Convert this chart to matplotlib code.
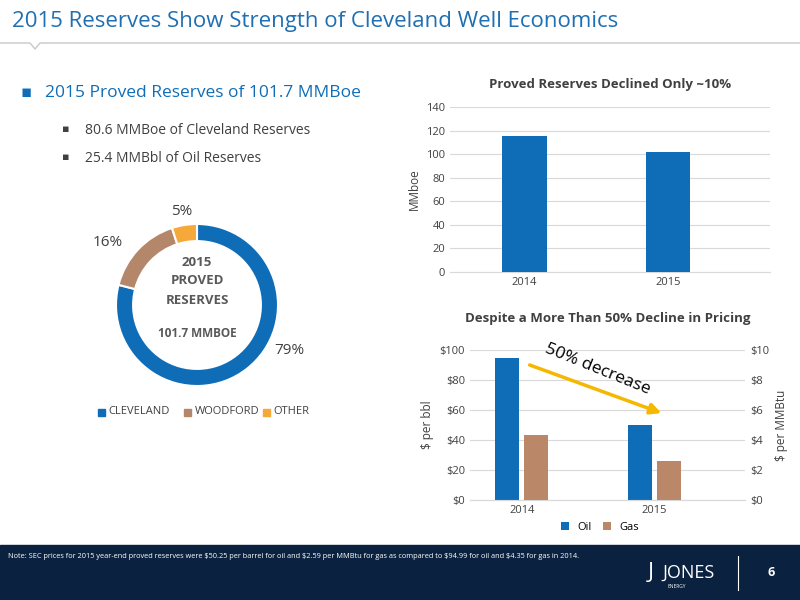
import matplotlib
matplotlib.use("Agg")
import matplotlib.pyplot as plt
from matplotlib.patches import Rectangle, FancyArrowPatch
from matplotlib.lines import Line2D

plt.rcParams['font.family'] = ['Open Sans', 'DejaVu Sans']

pie_labels = ["CLEVELAND", "WOODFORD", "OTHER"]
pie_values = [79, 16, 5]
pie_colors = ["#0F6DB8", "#B5876A", "#F5A93A"]

res_years = ["2014", "2015"]
res_values = [115.0, 101.7]

price_years = ["2014", "2015"]
oil_price = [94.99, 50.25]
gas_price = [4.35, 2.59]

BLUE = "#0F6DB8"
BROWN = "#BA8768"
TXT = "#404040"

fig = plt.figure(figsize=(8, 6), dpi=100)
W, H = 800, 600
def fx(x): return x / W
def fy(y): return 1 - y / H

fig.text(fx(12), fy(22), "2015 Reserves Show Strength of Cleveland Well Economics",
         color="#1F6FB2", fontsize=16, va="center", ha="left")
fig.add_artist(Line2D([fx(0), fx(30), fx(35), fx(40), fx(800)],
                      [fy(43), fy(43), fy(49), fy(43), fy(43)], color="#C8C8C8", lw=1))

fig.text(fx(20), fy(93), "\u25AA", color=BLUE, fontsize=12, va="center")
fig.text(fx(45), fy(93), "2015 Proved Reserves of 101.7 MMBoe", color="#0F6DB8", fontsize=12.5, va="center")
for y, t in [(130, "80.6 MMBoe of Cleveland Reserves"), (158, "25.4 MMBbl of Oil Reserves")]:
    fig.text(fx(62), fy(y), "\u25AA", color=TXT, fontsize=8, va="center")
    fig.text(fx(85), fy(y), t, color=TXT, fontsize=10, va="center")

# donut
axp = fig.add_axes([fx(107), fy(395), 180 / W, 180 / H])
wedges, _ = axp.pie(pie_values, colors=pie_colors, startangle=90, counterclock=False,
                    radius=0.9, wedgeprops=dict(width=0.19, edgecolor="white", linewidth=1.5))
axp.set_xlim(-1, 1); axp.set_ylim(-1, 1); axp.set_aspect("equal")
fig.text(fx(197), fy(262), "2015", ha="center", va="center", fontsize=9.5, weight="bold", color="#595959")
fig.text(fx(197), fy(281), "PROVED", ha="center", va="center", fontsize=9.5, weight="bold", color="#595959")
fig.text(fx(197), fy(300), "RESERVES", ha="center", va="center", fontsize=9.5, weight="bold", color="#595959")
fig.text(fx(197), fy(333), "101.7 MMBOE", ha="center", va="center", fontsize=8.5, weight="bold", color="#595959")
fig.text(fx(289), fy(351), f"{pie_values[0]}%", ha="center", va="center", fontsize=11, color=TXT)
fig.text(fx(108), fy(243), f"{pie_values[1]}%", ha="center", va="center", fontsize=11, color=TXT)
fig.text(fx(182), fy(212), f"{pie_values[2]}%", ha="center", va="center", fontsize=11, color=TXT)
x = 98
for lab, c in zip(pie_labels, pie_colors):
    fig.add_artist(Rectangle((fx(x), fy(416)), 7 / W, 7 / H, color=c))
    fig.text(fx(x + 10), fy(412), lab, fontsize=8, color=TXT, va="center")
    x += 10 + len(lab) * 7.6 + 8

# reserves bar chart
ax1 = fig.add_axes([fx(450), fy(272), 320 / W, 165 / H])
ax1.bar(res_years, res_values, width=0.31, color=BLUE, zorder=3)
ax1.set_xlim(-0.52, 1.71)
ax1.set_ylim(0, 140); ax1.set_yticks(range(0, 141, 20))
ax1.grid(axis="y", color="#D9D9D9", lw=0.8, zorder=0)
for s in ["top", "right", "left"]: ax1.spines[s].set_visible(False)
ax1.spines["bottom"].set_color("#D9D9D9")
ax1.tick_params(length=0, labelsize=8, colors=TXT)
ax1.set_ylabel("MMboe", fontsize=8.5, color=TXT)
ax1.set_title("Proved Reserves Declined Only ~10%", fontsize=9.5, weight="bold", color=TXT, pad=14)

# price chart
ax2 = fig.add_axes([fx(470), fy(500), 275 / W, 150 / H])
xs = [0, 1]
ax2.bar([v - 0.11 for v in xs], oil_price, width=0.18, color=BLUE, zorder=3, label="Oil")
ax2.set_ylim(0, 100); ax2.set_yticks(range(0, 101, 20))
ax2.set_yticklabels([f"${v}" for v in range(0, 101, 20)])
ax2.set_xticks(xs); ax2.set_xticklabels(price_years)
ax2.set_xlim(-0.39, 1.68)
ax2.grid(axis="y", color="#D9D9D9", lw=0.8, zorder=0)
ax3 = ax2.twinx()
ax3.bar([v + 0.11 for v in xs], gas_price, width=0.18, color=BROWN, zorder=3, label="Gas")
ax3.set_ylim(0, 10); ax3.set_yticks(range(0, 11, 2))
ax3.set_yticklabels([f"${v}" for v in range(0, 11, 2)])
for a in (ax2, ax3):
    for s in ["top", "right", "left"]: a.spines[s].set_visible(False)
    a.spines["bottom"].set_color("#D9D9D9")
    a.tick_params(length=0, labelsize=8, colors=TXT)
ax2.set_ylabel("$ per bbl", fontsize=8.5, color=TXT)
ax3.set_ylabel("$ per MMBtu", fontsize=8.5, color=TXT)
ax2.set_title("Despite a More Than 50% Decline in Pricing", fontsize=9.5, weight="bold", color=TXT, pad=20)
h1, l1 = ax2.get_legend_handles_labels(); h2, l2 = ax3.get_legend_handles_labels()
fig.legend(h1 + h2, l1 + l2, loc="center", bbox_to_anchor=(fx(600), fy(527)), ncol=2,
           frameon=False, fontsize=8, handlelength=0.7, handleheight=0.7, columnspacing=1)
fig.add_artist(FancyArrowPatch((fx(527), fy(364)), (fx(664), fy(414)), arrowstyle="-|>",
                               mutation_scale=16, color="#F5B800", lw=2.5))
fig.text(fx(598), fy(369), "50% decrease", rotation=-22, fontsize=12.5, ha="center", va="center", color="black")

# footer
fig.add_artist(Rectangle((0, 0), 1, 55 / H, color="#0A2240"))
fig.text(fx(8), fy(556), r"Note: SEC prices for 2015 year-end proved reserves were \$50.25 per barrel for oil and \$2.59 per MMBtu for gas as compared to \$94.99 for oil and \$4.35 for gas in 2014.",
         fontsize=5.3, color="white", va="center")
fig.text(fx(662), fy(573), "JONES", fontsize=13, color="white", va="center")
fig.text(fx(668), fy(587), "ENERGY", fontsize=3.5, color="white", va="center")
fig.text(fx(648), fy(573), "J", fontsize=16, color="white", va="center")
fig.add_artist(Line2D([fx(738), fx(738)], [fy(556), fy(590)], color="white", lw=0.8))
fig.text(fx(768), fy(572), "6", fontsize=9, color="white", va="center", weight="bold")

fig.savefig("out.png", dpi=100)
